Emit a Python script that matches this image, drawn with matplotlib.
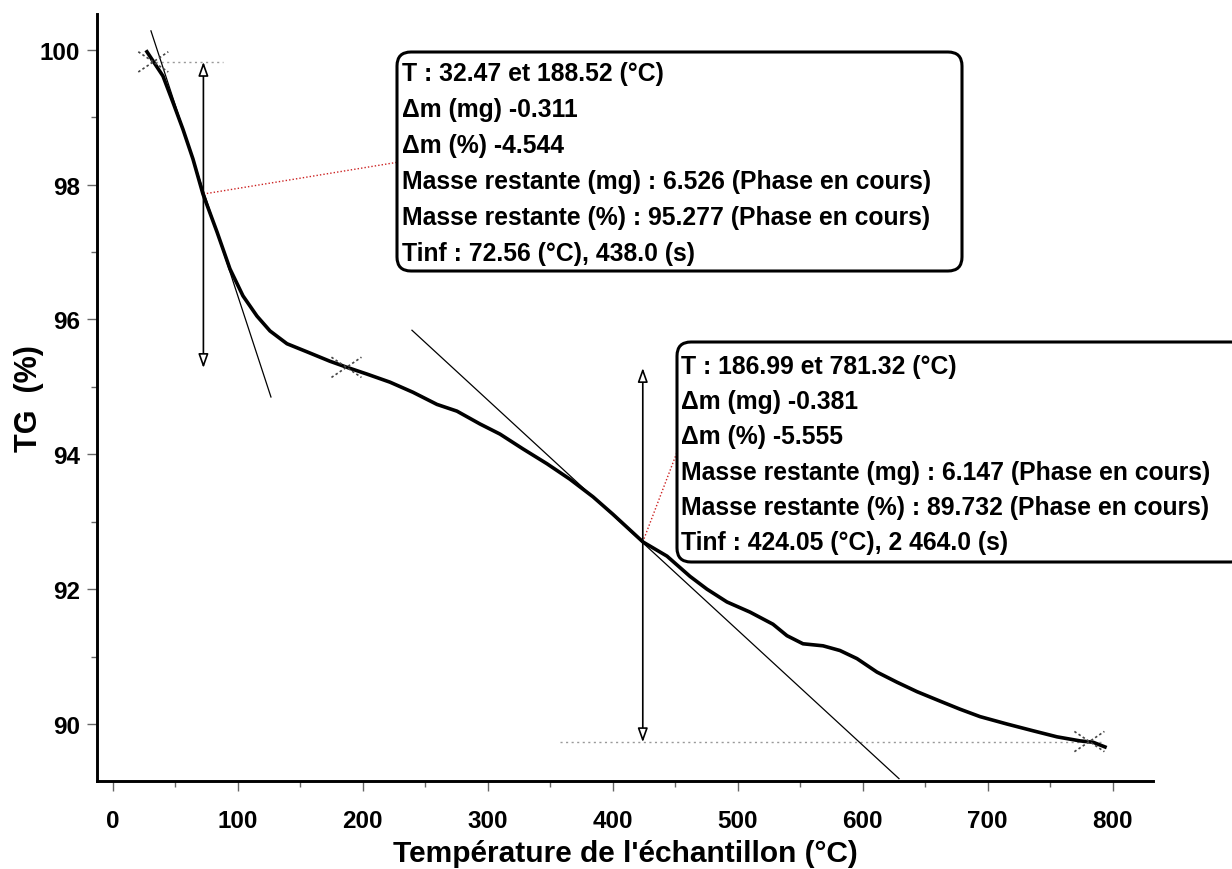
import numpy as np
import matplotlib
matplotlib.use("Agg")
import matplotlib.pyplot as plt
from matplotlib.patches import FancyBboxPatch, FancyArrowPatch
from matplotlib.ticker import MultipleLocator

plt.rcParams['font.family'] = ['Liberation Sans', 'DejaVu Sans']
plt.rcParams['font.weight'] = 'bold'

# TG curve
temp = [27.4, 40.2, 48.2, 56.2, 64.2, 72.2, 83.4, 93.8, 104.2, 115.4, 125.8, 139.4,
        155.4, 173.8, 187.4, 203.4, 221.8, 240.2, 259.4, 275.4, 293.8, 309.8, 328.2,
        347.4, 365.8, 384.2, 400.2, 424.2, 443.4, 461.8, 475.4, 491.4, 509.8, 528.2,
        539.4, 552.2, 568.2, 581.8, 595.4, 611.4, 627.4, 643.4, 661.8, 677.8, 693.8,
        715.4, 736.2, 755.4, 773.8, 784.2, 793.8]
tg = [99.97, 99.61, 99.22, 98.82, 98.38, 97.86, 97.30, 96.75, 96.35, 96.05, 95.83, 95.64,
      95.52, 95.38, 95.29, 95.19, 95.07, 94.92, 94.74, 94.64, 94.45, 94.30, 94.08,
      93.86, 93.63, 93.37, 93.11, 92.70, 92.49, 92.19, 92.00, 91.81, 91.66, 91.48,
      91.31, 91.19, 91.16, 91.09, 90.97, 90.77, 90.62, 90.48, 90.34, 90.22, 90.11,
      90.00, 89.90, 89.81, 89.75, 89.73, 89.66]

# step limits (T, TG) and inflection points
step_marks = [(32.47, 99.82), (186.99, 95.29), (781.32, 89.74)]
tinf = [(72.56, 97.86), (424.05, 92.70)]
step_levels = [(99.82, 95.28), (95.28, 89.73)]
level_lines = [((30, 88), 99.82), ((358, 792), 89.73)]
tangents = [((30.6, 126.6), (100.28, 94.85)), ((239.4, 629.0), (95.84, 89.19))]
label_anchor = [(227.4, 98.33), (451.4, 94.03)]

box1 = ["T : 32.47 et 188.52 (°C)",
        "Δm (mg) -0.311",
        "Δm (%) -4.544",
        "Masse restante (mg) : 6.526 (Phase en cours)",
        "Masse restante (%) : 95.277 (Phase en cours)",
        "Tinf : 72.56 (°C), 438.0 (s)"]
box2 = ["T : 186.99 et 781.32 (°C)",
        "Δm (mg) -0.381",
        "Δm (%) -5.555",
        "Masse restante (mg) : 6.147 (Phase en cours)",
        "Masse restante (%) : 89.732 (Phase en cours)",
        "Tinf : 424.05 (°C), 2 464.0 (s)"]

W, H = 1232, 870
fig = plt.figure(figsize=(W / 100, H / 100), dpi=100)
ax = fig.add_axes([97 / W, 1 - 782 / H, (1153 - 97) / W, (782 - 15) / H])
ax.set_xlim(-12.56, 832.2)
ax.set_ylim(89.155, 100.53)

ax.plot(temp, tg, color='black', lw=2.6, zorder=5)

for (x0, x1), (y0, y1) in tangents:
    ax.plot([x0, x1], [y0, y1], color='black', lw=0.9, zorder=4)

for (x0, x1), y in level_lines:
    ax.plot([x0, x1], [y, y], color='#999999', lw=1.0, ls=(0, (1.5, 2.5)), zorder=3)

for (tx, ty), (ya, yb) in zip(tinf, step_levels):
    arr = FancyArrowPatch((tx, ya), (tx, yb), arrowstyle='<|-|>,head_length=0.7,head_width=0.25',
                          mutation_scale=12, fc='white', ec='black', lw=1.2, zorder=6,
                          shrinkA=0, shrinkB=0)
    ax.add_patch(arr)

for (tx, ty), (lx, ly) in zip(tinf, label_anchor):
    ax.plot([tx, lx], [ty, ly], color='#cc2222', lw=1.0, ls=(0, (1, 1.5)), zorder=4)

for mx, my in step_marks:
    ax.plot([mx - 12, mx + 12], [my - 0.15, my + 0.15], color='#444444', lw=1.2,
            ls=(0, (1.5, 1.5)), zorder=6)
    ax.plot([mx - 12, mx + 12], [my + 0.15, my - 0.15], color='#444444', lw=1.2,
            ls=(0, (1.5, 1.5)), zorder=6)

for s in ['top', 'right']:
    ax.spines[s].set_visible(False)
for s in ['left', 'bottom']:
    ax.spines[s].set_linewidth(2.1)

ax.xaxis.set_major_locator(MultipleLocator(100))
ax.xaxis.set_minor_locator(MultipleLocator(50))
ax.yaxis.set_major_locator(MultipleLocator(2))
ax.yaxis.set_minor_locator(MultipleLocator(1))
ax.tick_params(which='major', length=7, width=1, color='#666666', labelsize=17.5, pad=5)
ax.tick_params(which='minor', length=4, width=1, color='#666666')
ax.tick_params(axis='x', which='major', pad=13)
for lab in ax.get_xticklabels() + ax.get_yticklabels():
    lab.set_fontweight('bold')

ax.set_xlabel("Température de l'échantillon (°C)", fontsize=21.5, fontweight='bold')
ax.xaxis.set_label_coords(0.5, -0.076)
ax.set_ylabel("TG  (%)", fontsize=22, fontweight='bold')
ax.yaxis.set_label_coords(-0.050, 0.5)

# annotation boxes, placed in pixel positions (inches = px / 100)
def add_box(lines, left, top, right, bottom, text_left, first_y, step):
    patch = FancyBboxPatch((left / 100, (H - bottom) / 100), (right - left) / 100,
                           (bottom - top) / 100,
                           boxstyle='round,pad=0,rounding_size=0.14',
                           transform=fig.dpi_scale_trans, fc='white', ec='black', lw=2.2,
                           zorder=10)
    fig.add_artist(patch)
    for i, line in enumerate(lines):
        fig.text(text_left / 100, (H - (first_y + i * step)) / 100, line,
                 transform=fig.dpi_scale_trans, ha='left', va='center',
                 fontsize=17.8, fontweight='bold', zorder=11)

add_box(box1, 397, 53, 962, 272, 402, 74, 36.0)
add_box(box2, 677, 343, 1245, 563, 681, 367, 35.2)

fig.savefig('out.png', dpi=100)
